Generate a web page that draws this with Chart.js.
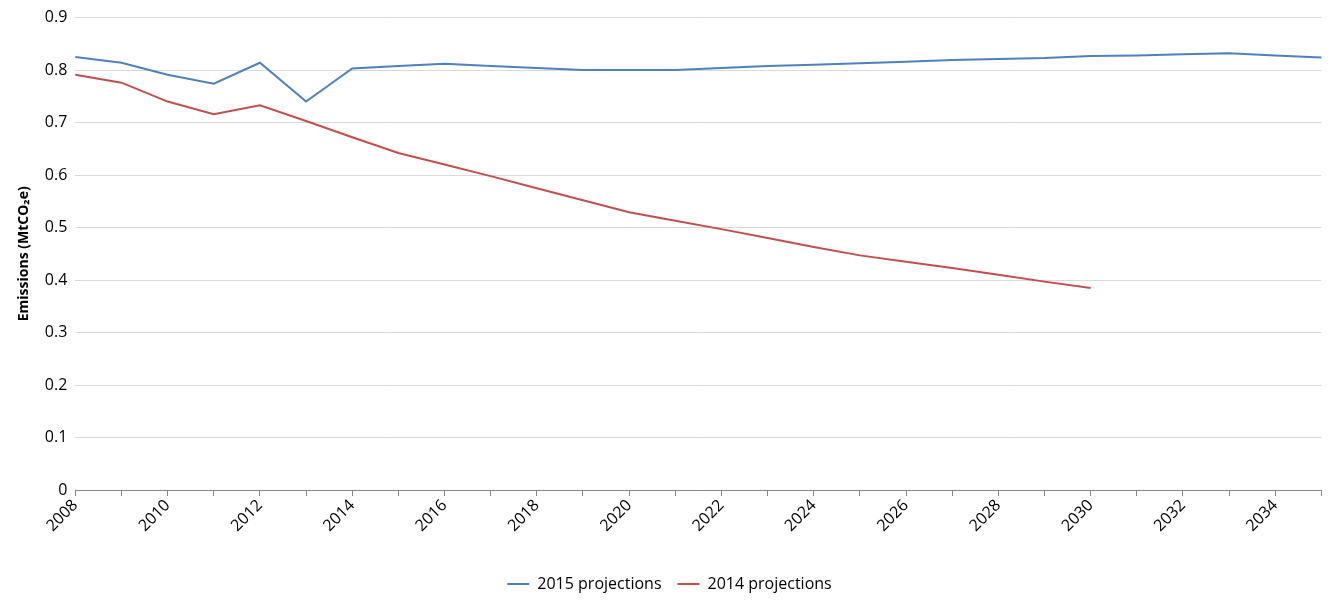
<!DOCTYPE html>
<html>
<head>
<meta charset="utf-8">
<script src="https://cdn.jsdelivr.net/npm/chart.js@4/dist/chart.umd.min.js"></script>
<style>
  html, body { margin: 0; padding: 0; background: #fff; }
  #wrap { width: 1335px; height: 602px; position: relative; }
</style>
</head>
<body>
<div id="wrap"><canvas id="chart"></canvas></div>
<script>
  const YEARS = [];
  for (let y = 2008; y <= 2035; y++) YEARS.push(String(y));

  const PROJ_2015 = [0.825, 0.814, 0.791, 0.774, 0.814, 0.740, 0.803, 0.808, 0.812, 0.808,
    0.804, 0.800, 0.800, 0.800, 0.804, 0.808, 0.810, 0.813, 0.816, 0.819,
    0.821, 0.823, 0.827, 0.828, 0.830, 0.832, 0.828, 0.824];
  const PROJ_2014 = [0.791, 0.776, 0.740, 0.716, 0.733, 0.703, 0.672, 0.642, 0.620, 0.598,
    0.575, 0.552, 0.529, 0.513, 0.497, 0.480, 0.463, 0.447, 0.435, 0.423,
    0.410, 0.397, 0.385];

  new Chart(document.getElementById("chart"), {
    type: "line",
    data: {
      labels: YEARS,
      datasets: [
        { label: "2015 projections", data: PROJ_2015, borderColor: "#4f81bd", backgroundColor: "#4f81bd", borderWidth: 2, pointRadius: 0, tension: 0 },
        { label: "2014 projections", data: PROJ_2014, borderColor: "#c0504d", backgroundColor: "#c0504d", borderWidth: 2, pointRadius: 0, tension: 0 },
      ],
    },
    options: {
      responsive: true,
      maintainAspectRatio: false,
      animation: false,
      layout: { padding: { top: 10, right: 8, left: 12, bottom: 0 } },
      plugins: {
        legend: {
          position: "bottom",
          labels: { boxWidth: 22, boxHeight: 0, color: "#000", font: { family: "Open Sans", size: 16 }, padding: 16 },
        },
        tooltip: { enabled: false },
      },
      scales: {
        x: {
          offset: false,
          afterFit(scale) { scale.height = 70; },
          grid: { display: true, drawOnChartArea: false, drawTicks: true, tickLength: 6, color: "#868686" },
          border: { color: "#868686" },
          ticks: {
            color: "#000",
            padding: 0,
            font: { family: "Open Sans", size: 16 },
            maxRotation: 45, minRotation: 45,
            autoSkip: false,
            callback(value, index) { return index % 2 === 0 ? YEARS[index] : ""; },
          },
        },
        y: {
          min: 0, max: 0.9,
          grid: { color: "#d9d9d9", drawTicks: false },
          border: { display: false },
          ticks: { stepSize: 0.1, color: "#000", padding: 8, font: { family: "Open Sans", size: 16 },
            callback(v) { return Math.round(v * 10) / 10; } },
          title: { display: true, text: "Emissions (MtCO₂e)", color: "#000", font: { family: "Open Sans", size: 14, weight: "bold" } },
        },
      },
    },
  });
</script>
</body>
</html>
